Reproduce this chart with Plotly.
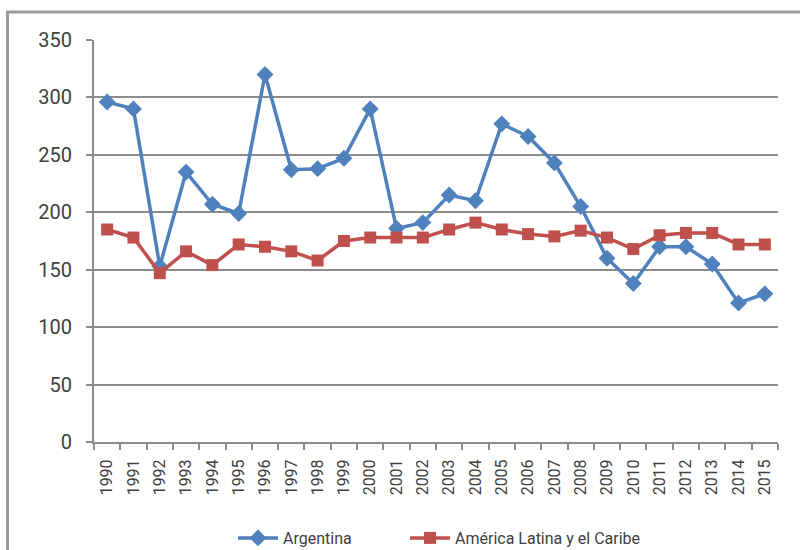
import plotly.graph_objects as go

years = [str(y) for y in range(1990, 2016)]
argentina = [296, 290, 153, 235, 207, 199, 320, 237, 238, 247, 290, 186, 191, 215, 210,
             277, 266, 243, 205, 160, 138, 170, 170, 155, 121, 129]
america_latina = [185, 178, 147, 166, 154, 172, 170, 166, 158, 175, 178, 178, 178, 185, 191,
                  185, 181, 179, 184, 178, 168, 180, 182, 182, 172, 172]
y_ticks = [0, 50, 100, 150, 200, 250, 300, 350]

W, H = 800, 550
L, R, T, B = 94, 22, 40, 108
pw, ph = W - L - R, H - T - B

fig = go.Figure()
fig.add_trace(go.Scatter(
    x=years, y=argentina, name="Argentina", mode="lines+markers",
    line=dict(color="#4F81BD", width=3.5),
    marker=dict(symbol="diamond", size=13, color="#4F81BD"),
    legend="legend",
))
fig.add_trace(go.Scatter(
    x=years, y=america_latina, name="América Latina y el Caribe", mode="lines+markers",
    line=dict(color="#C0504D", width=3.5),
    marker=dict(symbol="square", size=12, color="#C0504D"),
    legend="legend2",
))

def px_x(p):
    return (p - L) / pw

def px_y(p):
    return (H - B - p) / ph

leg_common = dict(orientation="h", xanchor="left", yref="container",
                  y=1 - 538 / H, yanchor="middle",
                  font=dict(size=16, color="#404040"), itemwidth=40,
                  bgcolor="rgba(0,0,0,0)")

fig.update_layout(
    width=W, height=H,
    margin=dict(l=L, r=R, t=T, b=B, autoexpand=False),
    paper_bgcolor="white", plot_bgcolor="white",
    font=dict(family="Roboto, sans-serif", color="#404040"),
    showlegend=True,
    legend=dict(x=px_x(233), **leg_common),
    legend2=dict(x=px_x(405), **leg_common),
    xaxis=dict(type="category", range=[-0.5, 25.5], tickson="boundaries",
               ticks="outside", ticklen=6, tickcolor="#8c8c8c", tickwidth=1.5,
               showline=True, linecolor="#8c8c8c", linewidth=2, showgrid=False,
               tickangle=-90, tickfont=dict(size=16, color="#404040"),
               automargin=False, ticklabelstandoff=9),
    yaxis=dict(range=[0, 350], tickvals=y_ticks, ticks="outside", ticklen=6,
               tickcolor="#8c8c8c", tickwidth=1.5,
               showline=True, linecolor="#8c8c8c", linewidth=2,
               showgrid=True, gridcolor="#8c8c8c", gridwidth=1.5,
               zeroline=False, tickfont=dict(size=20, color="#404040"),
               ticklabelstandoff=10, automargin=False),
    shapes=[
        dict(type="line", xref="paper", yref="paper", x0=px_x(6), x1=px_x(800),
             y0=px_y(12), y1=px_y(12), line=dict(color="#9a9a9a", width=3)),
        dict(type="line", xref="paper", yref="paper", x0=px_x(7.5), x1=px_x(7.5),
             y0=px_y(12), y1=px_y(550), line=dict(color="#9a9a9a", width=3)),
    ],
)

fig.write_html("out.html", post_script="document.body.style.margin='0';",
               config={"displayModeBar": False})
